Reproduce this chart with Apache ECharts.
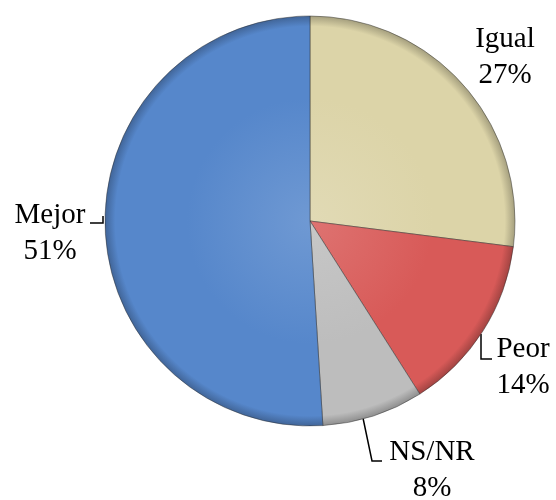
<!DOCTYPE html>
<html>
<head>
<meta charset="utf-8">
<script src="https://cdn.jsdelivr.net/npm/echarts@6/dist/echarts.min.js"></script>
<style>
    html, body {margin: 0; padding: 0; background: #fff;}
    #chart {width: 556px; height: 500px;}
</style>
</head>
<body>
<div id="chart"></div>
<script>
var categories = ['Igual', 'Peor', 'NS/NR', 'Mejor'];
var values = [27, 14, 8, 51];
var colors = ['#dcd4a8', '#d85a58', '#bdbdbd', '#5687cb'];

// label centres and leader lines
var labelPos = [[505, 57], [523, 367], [432, 470], [50, 233]];
var leaderLines = [
    null,
    [[481, 334], [481, 359], [492, 359]],
    [[363, 418], [372, 461], [382, 461]],
    [[103, 216], [103, 223], [90, 223]]
];

function shade(hex, f) {
    var r = parseInt(hex.substr(1, 2), 16);
    var g = parseInt(hex.substr(3, 2), 16);
    var b = parseInt(hex.substr(5, 2), 16);
    function c(v) {
        v = f > 0 ? v + (255 - v) * f : v * (1 + f);
        return Math.round(v);
    }
    return 'rgb(' + c(r) + ',' + c(g) + ',' + c(b) + ')';
}

function buildData() {
    var out = [];
    for (var i = 0; i < categories.length; i++) {
        out.push({
            name: categories[i],
            value: values[i],
            labelLine: {show: leaderLines[i] !== null},
            itemStyle: {
                color: {
                    type: 'radial', x: 310, y: 221, r: 205, global: true,
                    colorStops: [
                        {offset: 0, color: shade(colors[i], 0.15)},
                        {offset: 0.6, color: colors[i]},
                        {offset: 0.95, color: colors[i]},
                        {offset: 1, color: shade(colors[i], -0.25)}
                    ]
                }
            }
        });
    }
    return out;
}

var chart = echarts.init(document.getElementById('chart'));
var option = {
    animation: false,
    backgroundColor: '#ffffff',
    series: [{
        type: 'pie',
        center: [310, 221],
        radius: [0, 205],
        startAngle: 90,
        clockwise: true,
        data: buildData(),
        itemStyle: {
            borderColor: 'rgba(40,40,40,0.45)',
            borderWidth: 1
        },
        label: {
            show: true,
            position: 'outside',
            width: 200,
            formatter: function (p) {
                return p.name + '\n' + p.value + '%';
            },
            fontFamily: 'Liberation Serif',
            fontSize: 29,
            lineHeight: 36,
            color: '#000',
            align: 'center'
        },
        labelLine: {
            show: true,
            lineStyle: {color: '#000', width: 1.5}
        },
        labelLayout: function (params) {
            var i = params.dataIndex;
            var res = {
                x: labelPos[i][0],
                y: labelPos[i][1],
                align: 'center',
                verticalAlign: 'middle'
            };
            if (leaderLines[i]) {
                res.labelLinePoints = leaderLines[i];
            }
            return res;
        }
    }]
};
chart.setOption(option);
</script>
</body>
</html>
